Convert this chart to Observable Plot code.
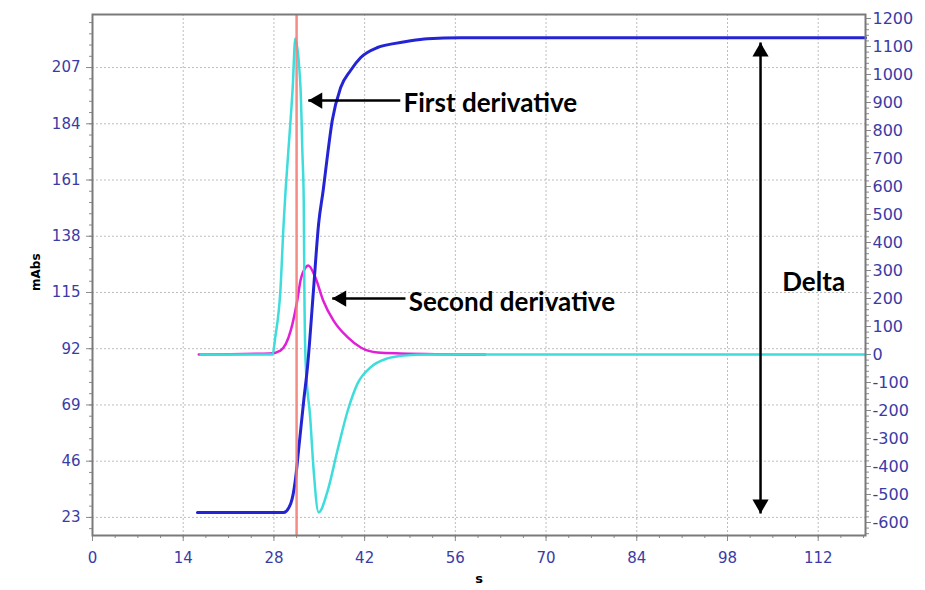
<!DOCTYPE html>
<html>
<head>
<meta charset="utf-8">
<script src="https://cdn.jsdelivr.net/npm/d3@7"></script>
<script src="https://cdn.jsdelivr.net/npm/@observablehq/plot@0.6"></script>
<style>
  html, body { margin: 0; padding: 0; background: #fff; }
  #chart { width: 925px; height: 590px; }
</style>
</head>
<body>
<div id="chart"></div>
<script>
// ---- tick labels ----
const xTicks = [0, 14, 28, 42, 56, 70, 84, 98, 112];
const leftTicks = [23, 46, 69, 92, 115, 138, 161, 184, 207];
const rightTicks = [-600, -500, -400, -300, -200, -100, 0, 100, 200, 300, 400, 500, 600, 700, 800, 900, 1000, 1100, 1200];

// ---- absorbance signal (left axis, mAbs) ----
const blueX = [16.2, 29.5, 30.6, 31.3, 31.8, 32.6, 33.2, 34.1, 34.9, 35.6, 36.3, 37.0, 38.3, 39.8, 41.4, 44.0, 46.5, 49.1, 51.7, 56.8, 119.3];
const blueY = [25.0, 25.0, 28.7, 38.1, 50.4, 70.8, 85.1, 115.8, 143.2, 156.7, 171.8, 185.3, 198.8, 205.7, 211.1, 215.2, 216.8, 218.0, 218.8, 219.2, 219.2];

// ---- cyan derivative (right axis) ----
const cyanX = [16.7, 27.8, 28.2, 29.0, 29.5, 29.8, 30.2, 30.9, 31.3, 32.1, 32.4, 32.6, 32.7, 32.9, 33.6, 34.1, 34.9, 36.3, 37.8, 39.4, 40.9, 42.9, 45.5, 48.0, 51.7, 119.3];
const cyanY = [0, 0, 60, 229, 468, 586, 718, 954, 1129, 954, 718, 550, 229, -32, -225, -404, -564, -486, -343, -200, -104, -46, -14, -4, 0, 0];

// ---- magenta derivative (right axis) ----
const magentaX = [16.4, 27.5, 29.0, 30.6, 31.6, 32.1, 32.9, 33.3, 34.4, 35.6, 37.2, 39.4, 41.4, 44.0, 47.5, 60.6];
const magentaY = [0, 4, 14, 86, 193, 264, 311, 318, 275, 193, 121, 61, 25, 7, 4, 0];

// ---- marker line and annotations ----
const markerX = [31.5];
const labelText = ["First derivative", "Second derivative"];
const labelX = [48.0, 48.8];
const labelY = [192.3, 110.9];
const deltaText = ["Delta"];
const deltaTextX = [111.3];
const deltaTextY = [119.1];
const arrowX1 = [47.5, 48.3];
const arrowX2 = [33.3, 37.0];
const arrowY = [193.5, 112.5];
const deltaX = [103.1];
const deltaY = [24.6, 217.2];

// ---- scales: right axis mapped into left units ----
const yDomain = [15.6, 228.7];
const r2l = r => 20.92 + (r + 600) * 0.11452;
const l2r = l => (l - 20.92) / 0.11452 - 600;

const blue = blueX.map((x, i) => ({x, y: blueY[i]}));
const cyan = cyanX.map((x, i) => ({x, y: r2l(cyanY[i])}));
const magenta = magentaX.map((x, i) => ({x, y: r2l(magentaY[i])}));
const labels = labelText.map((t, i) => ({t, x: labelX[i], y: labelY[i]}));
const deltaLabel = deltaText.map((t, i) => ({t, x: deltaTextX[i], y: deltaTextY[i]}));
const arrows = arrowX1.map((x1, i) => ({x1, x2: arrowX2[i], y: arrowY[i]}));
const leftHeads = arrows.map(a => ({x: a.x2, y: a.y}));
const upHead = [{x: deltaX[0], y: deltaY[1]}];
const downHead = [{x: deltaX[0], y: deltaY[0]}];

const minorX = d3.range(0, 120, 3.5);
const minorLeft = d3.range(23 - 4.6, 229, 4.6);
const minorRight = d3.range(-640, 1215, 20).map(r2l);

const tickColor = "#8a8a8a";
const labelColor = "#3b3ba6";
const gridColor = "#bdbdbd";
const annoFont = {fontFamily: "Lato", fontWeight: "bold", fontSize: 26, fill: "#000"};

const chart = Plot.plot({
  width: 925,
  height: 590,
  marginLeft: 92,
  marginRight: 60,
  marginTop: 14,
  marginBottom: 55,
  style: {fontFamily: "DejaVu Sans", fontSize: "15px", color: labelColor, background: "#fff"},
  x: {domain: [0, 119.3], label: null},
  y: {domain: yDomain, label: null},
  marks: [
    Plot.gridX(xTicks, {stroke: gridColor, strokeOpacity: 1, strokeDasharray: "2,2", strokeWidth: 1}),
    Plot.gridY(leftTicks, {stroke: gridColor, strokeOpacity: 1, strokeDasharray: "2,2", strokeWidth: 1}),
    // axes
    Plot.axisX(xTicks, {anchor: "bottom", tickSize: 6, tickPadding: 11, stroke: tickColor, fill: labelColor, label: null, fontSize: 15}),
    Plot.axisX(minorX, {anchor: "bottom", tickSize: 3, tickFormat: () => "", stroke: tickColor, label: null}),
    Plot.axisY(leftTicks, {anchor: "left", tickSize: 6, tickPadding: 6, stroke: tickColor, fill: labelColor, label: null, fontSize: 15}),
    Plot.axisY(minorLeft, {anchor: "left", tickSize: 3, tickFormat: () => "", stroke: tickColor, label: null}),
    Plot.axisY(rightTicks.map(r2l), {anchor: "right", tickSize: 5, tickPadding: 2, stroke: tickColor, fill: labelColor, label: null, fontSize: 16,
      tickFormat: d => String(Math.round(l2r(d)))}),
    Plot.axisY(minorRight, {anchor: "right", tickSize: 3, tickFormat: () => "", stroke: tickColor, label: null}),
    // curves
    Plot.line(magenta, {x: "x", y: "y", stroke: "#e01fd6", strokeWidth: 2.5, curve: "monotone-x"}),
    Plot.line(cyan, {x: "x", y: "y", stroke: "#3fdcdc", strokeWidth: 2.5, curve: "monotone-x"}),
    Plot.line(blue, {x: "x", y: "y", stroke: "#2424d4", strokeWidth: 3, curve: "monotone-x"}),
    Plot.ruleX(markerX, {stroke: "#f47e78", strokeWidth: 2.5, strokeOpacity: 0.9}),
    // annotations
    Plot.link(arrows, {x1: "x1", x2: "x2", y1: "y", y2: "y", stroke: "#000", strokeWidth: 2.5}),
    Plot.link([0], {x1: () => deltaX[0], x2: () => deltaX[0], y1: () => deltaY[0], y2: () => deltaY[1], stroke: "#000", strokeWidth: 2.5}),
    Plot.dot(leftHeads, {x: "x", y: "y", rotate: -90, dx: 9.3, symbol: "triangle", r: 6, fill: "#000", stroke: null}),
    Plot.dot(upHead, {x: "x", y: "y", rotate: 0, dy: 9.3, symbol: "triangle", r: 6, fill: "#000", stroke: null}),
    Plot.dot(downHead, {x: "x", y: "y", rotate: 180, dy: -9.3, symbol: "triangle", r: 6, fill: "#000", stroke: null}),
    Plot.text(labels, {x: "x", y: "y", text: "t", textAnchor: "start", ...annoFont}),
    Plot.text(deltaLabel, {x: "x", y: "y", text: "t", textAnchor: "middle", ...annoFont}),
    Plot.text(["s"], {frameAnchor: "bottom", dy: 47, fill: "#000", fontSize: 13, fontWeight: "bold"}),
    Plot.text(["mAbs"], {frameAnchor: "left", dx: -56, dy: 16, rotate: -90, fill: "#000", fontSize: 12, fontWeight: "bold"}),
    Plot.frame({stroke: "#7a7a7a", strokeWidth: 2})
  ]
});
document.getElementById("chart").appendChild(chart);
</script>
</body>
</html>
